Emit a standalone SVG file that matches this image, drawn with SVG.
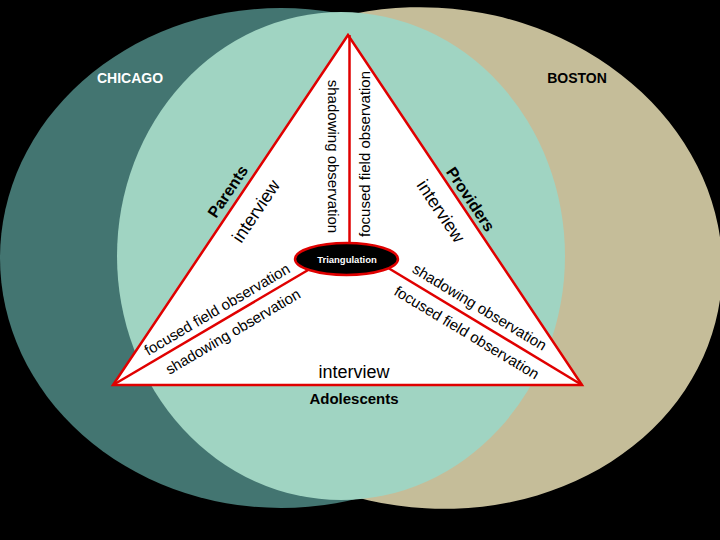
<svg xmlns="http://www.w3.org/2000/svg" width="720" height="540" viewBox="0 0 720 540">
<style>
.t{font-family:"Liberation Sans",Arial,sans-serif;fill:#000}
.b{font-weight:bold}
.lbl{font-size:15px}
.iv{font-size:18px}
.role{font-size:16px;font-weight:bold}
.red{stroke:#E00000;stroke-width:2.5;fill:none}
</style>
<rect width="720" height="540" fill="#000"/>
<g id="chicago">
<ellipse cx="281" cy="258" rx="281" ry="250" fill="#437571"/>
</g>
<g id="boston">
<ellipse cx="0" cy="0" rx="291" ry="250" fill="#C5BD99" transform="translate(432,258) rotate(8)"/>
</g>
<g id="overlap">
<ellipse cx="341" cy="256" rx="224" ry="244" fill="#A0D4C2"/>
</g>
<text class="t b" x="130" y="83" font-size="14" text-anchor="middle" style="fill:#fff">CHICAGO</text>
<text class="t b" x="577" y="83" font-size="14" text-anchor="middle">BOSTON</text>
<g id="triangle">
<polygon points="348,35 113,385 582,385" class="red" style="fill:#fff"/>
</g>
<g id="connectors">
<line class="red" x1="349.5" y1="35" x2="349.5" y2="250"/>
<line class="red" x1="113" y1="385" x2="320" y2="263"/>
<line class="red" x1="582" y1="385" x2="375" y2="260"/>
</g>
<g id="triangulation">
<ellipse cx="346.5" cy="259" rx="51.5" ry="16" fill="#000" stroke="#E00000" stroke-width="2.5"/>
<text class="t b" x="347" y="263" font-size="9.5" text-anchor="middle" style="fill:#fff">Triangulation</text>
</g>
<g id="labels">
<text class="t role" text-anchor="middle" transform="translate(232.4,194.6) rotate(-56.1)">Parents</text>
<text class="t iv" text-anchor="middle" transform="translate(261,214.4) rotate(-56.1)">interview</text>
<text class="t role" text-anchor="middle" transform="translate(466,202.3) rotate(56.2)">Providers</text>
<text class="t iv" text-anchor="middle" transform="translate(435.7,214.6) rotate(56.2)">interview</text>
<text class="t lbl" text-anchor="middle" transform="translate(327.5,156.5) rotate(90)">shadowing observation</text>
<text class="t lbl" text-anchor="middle" transform="translate(370,154) rotate(-90)">focused field observation</text>
<text class="t lbl" text-anchor="middle" transform="translate(219.7,313.9) rotate(-30.5)">focused field observation</text>
<text class="t lbl" text-anchor="middle" transform="translate(235.5,336) rotate(-30.5)">shadowing observation</text>
<text class="t lbl" text-anchor="middle" transform="translate(476.9,311.5) rotate(31.1)">shadowing observation</text>
<text class="t lbl" text-anchor="middle" transform="translate(464,337) rotate(31.1)">focused field observation</text>
<text class="t iv" x="354" y="378" text-anchor="middle">interview</text>
<text class="t b" x="354" y="404" font-size="15" text-anchor="middle">Adolescents</text>
</g>
</svg>
